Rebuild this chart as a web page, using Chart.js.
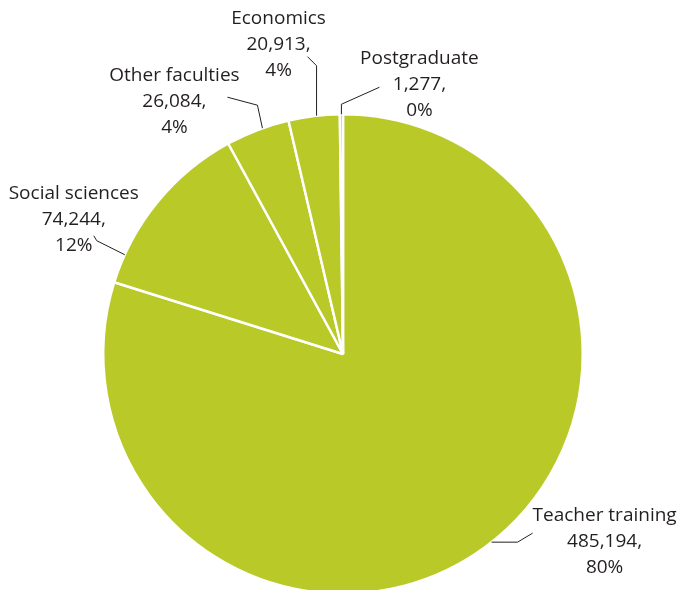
<!DOCTYPE html>
<html>
<head>
<meta charset="utf-8">
<script src="https://cdn.jsdelivr.net/npm/chart.js@4/dist/chart.umd.min.js"></script>
<style>
  html, body { margin: 0; padding: 0; background: #fff; overflow: hidden; }
  /* canvas is a little taller than the window: the pie's bottom is cut off */
  #wrap { width: 678px; height: 600px; position: relative; }
</style>
</head>
<body>
<div id="wrap"><canvas id="chart"></canvas></div>
<script>
// Student numbers by faculty, clockwise from 12 o'clock
const categories = ["Teacher training", "Social sciences", "Other faculties", "Economics", "Postgraduate"];
const students = [485194, 74244, 26084, 20913, 1277];
// percentages as printed on the chart
const shareLabels = ["80%", "12%", "4%", "4%", "0%"];

const SLICE_COLOR = "#b8c928";
const TEXT_COLOR = "#231f20";
const FONT = '19px "Open Sans", sans-serif';
const LINE_HEIGHT = 26;

// Callout placement per slice: where on the arc the leader starts (fraction of
// the slice's sweep), then elbow / end of leader and text centre relative to
// that anchor point.
const CALLOUTS = [
  { frac: 0.493, elbow: [26, 0],   end: [41, -9],   text: [113, -27] },
  { frac: 0.16,  elbow: [-28, -14], end: [-31, -19], text: [-51, -61] },
  { frac: 0.58,  elbow: [-5, -23], end: [-35, -31], text: [-88, -53] },
  { frac: 0.55,  elbow: [0, -50],  end: [-9, -59],  text: [-38, -97] },
  { frac: 0.5,   elbow: [0, -10],  end: [38, -27],  text: [78, -56] },
];

const calloutPlugin = {
  id: "callouts",
  afterDatasetsDraw(chart) {
    const ctx = chart.ctx;
    const arcs = chart.getDatasetMeta(0).data;
    ctx.save();
    ctx.strokeStyle = TEXT_COLOR;
    ctx.lineWidth = 1;
    ctx.fillStyle = TEXT_COLOR;
    ctx.font = FONT;
    ctx.textAlign = "center";
    ctx.textBaseline = "middle";
    arcs.forEach((arc, i) => {
      const c = CALLOUTS[i];
      const p = arc.getProps(["x", "y", "startAngle", "endAngle", "outerRadius"], true);
      const a = p.startAngle + c.frac * (p.endAngle - p.startAngle);
      const ax = p.x + Math.cos(a) * p.outerRadius;
      const ay = p.y + Math.sin(a) * p.outerRadius;
      ctx.beginPath();
      ctx.moveTo(ax, ay);
      ctx.lineTo(ax + c.elbow[0], ay + c.elbow[1]);
      ctx.lineTo(ax + c.end[0], ay + c.end[1]);
      ctx.stroke();
      const lines = [categories[i], students[i].toLocaleString("en-US") + ",", shareLabels[i]];
      lines.forEach((t, k) => {
        ctx.fillText(t, ax + c.text[0], ay + c.text[1] + k * LINE_HEIGHT);
      });
    });
    ctx.restore();
  },
};

new Chart(document.getElementById("chart"), {
  type: "pie",
  data: {
    labels: categories,
    datasets: [{
      data: students,
      backgroundColor: SLICE_COLOR,
      borderColor: "#ffffff",
      borderWidth: 2.5,
      clip: false,
    }],
  },
  options: {
    responsive: true,
    maintainAspectRatio: false,
    animation: false,
    layout: { padding: { left: 102, right: 94, top: 113, bottom: 5 } },
    plugins: {
      legend: { display: false },
      tooltip: { enabled: false },
    },
  },
  plugins: [calloutPlugin],
});
</script>
</body>
</html>
